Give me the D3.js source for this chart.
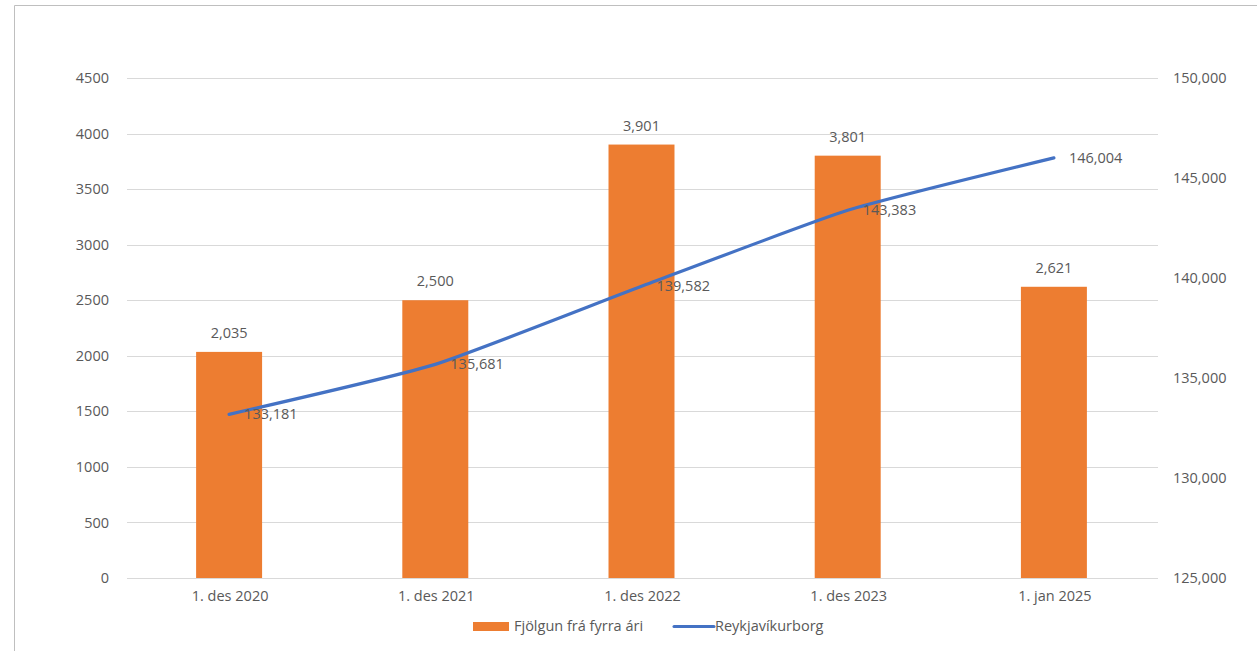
<!DOCTYPE html>
<html>
<head>
<meta charset="utf-8">
<script src="https://cdn.jsdelivr.net/npm/d3@7"></script>
<style>
  body { margin: 0; background: #fff; }
  text { font-family: "Open Sans", "Noto Sans", sans-serif; fill: #595959; }
</style>
</head>
<body>
<div id="chart"></div>
<script>
var width = 1257;
var height = 651;

var categories = ["1. des 2020", "1. des 2021", "1. des 2022", "1. des 2023", "1. jan 2025"];
var growth = [2035, 2500, 3901, 3801, 2621];
var population = [133181, 135681, 139582, 143383, 146004];
var leftTicks = [0, 500, 1000, 1500, 2000, 2500, 3000, 3500, 4000, 4500];
var rightTicks = [125000, 130000, 135000, 140000, 145000, 150000];

var plot = { left: 127, right: 1158, top: 78, bottom: 578 };
var fmt = d3.format(",");
var fontSize = "14.5px";

var svg = d3.select("#chart").append("svg")
  .attr("width", width)
  .attr("height", height);

// frame
svg.append("path")
  .attr("d", "M14.5," + height + "V5.5H" + width)
  .attr("fill", "none")
  .attr("stroke", "#bfbfbf")
  .attr("stroke-width", 1);

var x = d3.scaleBand()
  .domain(categories)
  .range([plot.left, plot.right])
  .paddingInner(0.68)
  .paddingOuter(0.34);

var yLeft = d3.scaleLinear().domain([0, 4500]).range([plot.bottom, plot.top]);
var yRight = d3.scaleLinear().domain([125000, 150000]).range([plot.bottom, plot.top]);

// gridlines
svg.append("g").selectAll("line")
  .data(leftTicks)
  .enter().append("line")
  .attr("x1", plot.left)
  .attr("x2", plot.right)
  .attr("y1", function(d) { return Math.round(yLeft(d)) + 0.5; })
  .attr("y2", function(d) { return Math.round(yLeft(d)) + 0.5; })
  .attr("stroke", "#d9d9d9")
  .attr("stroke-width", 1);

// left axis labels
var leftAxis = svg.append("g")
  .attr("transform", "translate(" + (plot.left - 18) + ",0)")
  .call(d3.axisLeft(yLeft).tickValues(leftTicks).tickSize(0).tickPadding(0).tickFormat(d3.format("d")));
leftAxis.select(".domain").remove();
leftAxis.selectAll("text").style("font-size", fontSize).attr("fill", "#595959");

// right axis labels
var rightAxis = svg.append("g")
  .attr("transform", "translate(" + (plot.right + 15) + ",0)")
  .call(d3.axisRight(yRight).tickValues(rightTicks).tickSize(0).tickPadding(0).tickFormat(fmt));
rightAxis.select(".domain").remove();
rightAxis.selectAll("text").style("font-size", fontSize).attr("fill", "#595959");

// category labels
var bottomAxis = svg.append("g")
  .attr("transform", "translate(0," + (plot.bottom + 13) + ")")
  .call(d3.axisBottom(x).tickSize(0).tickPadding(0));
bottomAxis.select(".domain").remove();
bottomAxis.selectAll("text").style("font-size", fontSize).attr("fill", "#595959");

// bars
svg.append("g").selectAll("rect")
  .data(growth)
  .enter().append("rect")
  .attr("x", function(d, i) { return x(categories[i]) - 1; })
  .attr("width", x.bandwidth())
  .attr("y", function(d) { return yLeft(d); })
  .attr("height", function(d) { return plot.bottom - yLeft(d); })
  .attr("fill", "#ed7d31");

svg.append("g").selectAll("text")
  .data(growth)
  .enter().append("text")
  .attr("x", function(d, i) { return x(categories[i]) + x.bandwidth() / 2 - 1; })
  .attr("y", function(d) { return yLeft(d) - 19; })
  .attr("dy", "0.35em")
  .attr("text-anchor", "middle")
  .style("font-size", fontSize)
  .text(fmt);

// line
var line = d3.line()
  .x(function(d, i) { return x(categories[i]) + x.bandwidth() / 2 - 1; })
  .y(function(d) { return yRight(d); })
  .curve(d3.curveCardinal.tension(0.5));

svg.append("path")
  .datum(population)
  .attr("d", line)
  .attr("fill", "none")
  .attr("stroke", "#4472c4")
  .attr("stroke-width", 3.2)
  .attr("stroke-linecap", "round");

svg.append("g").selectAll("text")
  .data(population)
  .enter().append("text")
  .attr("x", function(d, i) { return x(categories[i]) + x.bandwidth() / 2 + 14; })
  .attr("y", function(d) { return yRight(d); })
  .attr("dy", "0.35em")
  .style("font-size", fontSize)
  .text(fmt);

// legend
var legend = svg.append("g").attr("transform", "translate(0,626)");
legend.append("rect")
  .attr("x", 473).attr("y", -4).attr("width", 36).attr("height", 9)
  .attr("fill", "#ed7d31");
legend.append("text")
  .attr("x", 514).attr("y", 0).attr("dy", "0.35em")
  .style("font-size", fontSize)
  .text("Fjölgun frá fyrra ári");
legend.append("line")
  .attr("x1", 674).attr("x2", 714).attr("y1", 0.5).attr("y2", 0.5)
  .attr("stroke", "#4472c4").attr("stroke-width", 3).attr("stroke-linecap", "round");
legend.append("text")
  .attr("x", 715).attr("y", 0).attr("dy", "0.35em")
  .style("font-size", fontSize)
  .text("Reykjavíkurborg");
</script>
</body>
</html>
